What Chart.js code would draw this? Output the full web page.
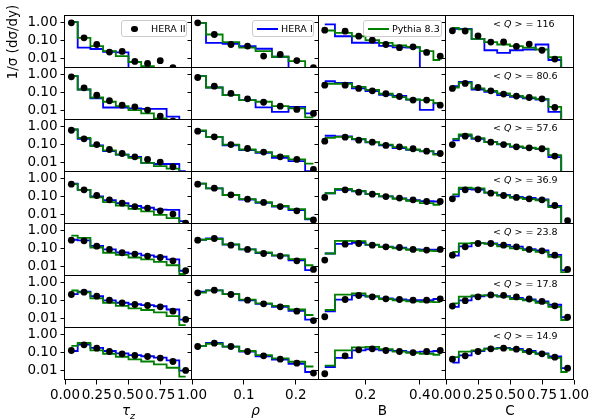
<!DOCTYPE html>
<html>
<head>
<meta charset="utf-8">
<script src="https://cdn.jsdelivr.net/npm/chart.js@4.4.1/dist/chart.umd.min.js"></script>
<style>
  html, body { margin: 0; padding: 0; background: #fff; overflow: hidden; }
  #wrap { position: relative; width: 590px; height: 419px; overflow: hidden; }
  #wrap canvas { position: absolute; left: 0; top: 0; }
  .txt { position: absolute; font-family: "DejaVu Sans"; color: #000; white-space: nowrap; }
  .leg { position: absolute; box-sizing: border-box; border: 1px solid #cccccc; border-radius: 3px;
         background: rgba(255,255,255,0.8); font: 9.5px "DejaVu Sans"; color: #000; }
  .leg span { position: absolute; }
  .q { font-size: 9.5px; }
  .xt { font-size: 13.5px; width: 100px; text-align: center; }
</style>
</head>
<body>
<div id="wrap"></div>
<script>
// ==========================
// データ
// ==========================
const tauX = [0.05, 0.15, 0.25, 0.35, 0.45, 0.55, 0.65, 0.75, 0.85, 0.95];
const rhoX = [0.011, 0.043, 0.075, 0.107, 0.138, 0.170, 0.202, 0.234];
const bX   = [0.05, 0.125, 0.175, 0.225, 0.275, 0.325, 0.375, 0.425, 0.475];
const cX   = [0.05, 0.15, 0.25, 0.35, 0.45, 0.55, 0.65, 0.75, 0.85, 0.95];

const meanQ = ["116", "80.6", "57.6", "36.9", "23.8", "17.8", "14.9"];

const yTicks   = [0.01, 0.1, 1];
const tauTicks = [0, 0.25, 0.5, 0.75, 1];
const rhoTicks = [0.1, 0.2];
const bTicks   = [0.2, 0.4];
const cTicks   = [0, 0.25, 0.5, 0.75, 1];

// τz
const tauHera2 = [
  [0.92, 0.139, 0.060, 0.023, 0.025, 0.0071, 0.0055, 0.0078, 0.0032, null],
  [0.715, 0.179, 0.071, 0.035, 0.020, 0.0163, 0.0108, 0.0051, 0.0028, null],
  [0.60, 0.203, 0.099, 0.053, 0.032, 0.021, 0.0151, 0.0108, 0.0060, null],
  [0.47, 0.23, 0.113, 0.065, 0.043, 0.028, 0.023, 0.0164, 0.0108, 0.0035],
  [0.284, 0.26, 0.133, 0.088, 0.058, 0.049, 0.038, 0.032, 0.021, 0.006],
  [0.212, 0.284, 0.172, 0.104, 0.074, 0.060, 0.053, 0.045, 0.026, 0.0091],
  [0.128, 0.26, 0.172, 0.113, 0.084, 0.068, 0.060, 0.049, 0.032, 0.0104]
];
const tauHera1 = [
  [1.0, 0.040, 0.034, 0.024, 0.022, 0.0005, 0.0005, 0.0005, 0.0005, 0.0005],
  [0.78, 0.145, 0.047, 0.015, 0.015, 0.0135, 0.0127, 0.0127, 0.0047, 0.0005],
  [0.66, 0.20, 0.088, 0.043, 0.028, 0.021, 0.0098, 0.0085, 0.0085, 0.0035],
  [0.5, 0.23, 0.10, 0.063, 0.043, 0.030, 0.024, 0.019, 0.0185, 0.0045],
  [0.3, 0.28, 0.14, 0.088, 0.06, 0.052, 0.042, 0.035, 0.025, 0.006],
  [0.22, 0.30, 0.17, 0.10, 0.075, 0.062, 0.055, 0.048, 0.032, 0.009],
  [0.12, 0.27, 0.18, 0.12, 0.088, 0.072, 0.062, 0.052, 0.037, 0.010]
];
const tauPythia = [
  [1.0, 0.139, 0.049, 0.026, 0.014, 0.0066, 0.0039, 0.0005, 0.0005, 0.0005],
  [0.78, 0.145, 0.053, 0.031, 0.0178, 0.0108, 0.0071, 0.0038, 0.0005, 0.0005],
  [0.66, 0.23, 0.081, 0.047, 0.028, 0.0185, 0.0098, 0.0065, 0.0047, 0.0005],
  [0.47, 0.23, 0.088, 0.049, 0.032, 0.021, 0.0151, 0.0098, 0.0065, 0.0005],
  [0.5, 0.38, 0.113, 0.058, 0.045, 0.032, 0.025, 0.0185, 0.012, 0.004],
  [0.35, 0.28, 0.13, 0.075, 0.05, 0.037, 0.030, 0.022, 0.014, 0.0045],
  [0.23, 0.33, 0.13, 0.085, 0.058, 0.042, 0.032, 0.022, 0.0145, 0.0048]
];

// ρ
const rhoHera2 = [
  [0.92, 0.212, 0.060, 0.049, 0.0139, 0.0171, 0.0079, 0.0032],
  [0.66, 0.22, 0.088, 0.045, 0.029, 0.0178, 0.0117, 0.0071],
  [0.53, 0.26, 0.099, 0.060, 0.038, 0.021, 0.0151, 0.0043],
  [0.47, 0.284, 0.123, 0.071, 0.047, 0.028, 0.0164, 0.0052],
  [0.284, 0.35, 0.151, 0.088, 0.053, 0.038, 0.021, 0.0071],
  [0.26, 0.365, 0.212, 0.104, 0.065, 0.045, 0.026, 0.0079],
  [0.212, 0.32, 0.212, 0.113, 0.065, 0.043, 0.026, 0.0074]
];
const rhoHera1 = [
  [0.92, 0.074, 0.066, 0.049, 0.035, 0.0128, 0.0005, 0.0005],
  [0.78, 0.187, 0.071, 0.038, 0.0151, 0.0087, 0.0163, 0.0071],
  [0.53, 0.26, 0.088, 0.049, 0.035, 0.0185, 0.0122, 0.0035],
  [0.5, 0.28, 0.12, 0.068, 0.045, 0.028, 0.018, 0.0055],
  [0.3, 0.35, 0.16, 0.088, 0.055, 0.040, 0.022, 0.0065],
  [0.3, 0.36, 0.22, 0.10, 0.065, 0.045, 0.027, 0.009],
  [0.22, 0.33, 0.21, 0.11, 0.062, 0.040, 0.024, 0.0085]
];
const rhoPythia = [
  [0.92, 0.212, 0.081, 0.040, 0.026, 0.0128, 0.0074, 0.0005],
  [0.78, 0.187, 0.071, 0.038, 0.031, 0.0178, 0.0134, 0.0043],
  [0.58, 0.26, 0.099, 0.053, 0.038, 0.023, 0.0151, 0.009],
  [0.5, 0.28, 0.12, 0.072, 0.048, 0.030, 0.020, 0.006],
  [0.3, 0.33, 0.165, 0.09, 0.06, 0.042, 0.026, 0.012],
  [0.27, 0.36, 0.22, 0.11, 0.07, 0.05, 0.032, 0.016],
  [0.22, 0.30, 0.21, 0.12, 0.072, 0.047, 0.031, 0.017]
];

// B
const bHera2 = [
  [0.365, 0.32, 0.172, 0.104, 0.060, 0.040, 0.045, 0.022, 0.0138],
  [0.25, 0.25, 0.165, 0.123, 0.085, 0.060, 0.038, 0.038, 0.020],
  [0.151, 0.25, 0.172, 0.133, 0.088, 0.074, 0.058, 0.043, 0.032],
  [0.088, 0.23, 0.172, 0.133, 0.099, 0.081, 0.065, 0.053, 0.053],
  [0.023, 0.172, 0.187, 0.151, 0.123, 0.113, 0.088, 0.081, 0.088],
  [0.0128, 0.113, 0.187, 0.158, 0.123, 0.113, 0.104, 0.104, 0.123],
  [0.0068, 0.065, 0.139, 0.158, 0.128, 0.113, 0.099, 0.113, 0.128]
];
const bHera1 = [
  [0.75, 0.17, 0.075, 0.075, 0.050, 0.042, 0.040, 0.0005, 0.0005],
  [0.41, 0.33, 0.165, 0.12, 0.075, 0.065, 0.04, 0.011, 0.025],
  [0.30, 0.28, 0.19, 0.13, 0.090, 0.063, 0.050, 0.042, 0.030],
  [0.15, 0.23, 0.19, 0.135, 0.10, 0.078, 0.062, 0.055, 0.053],
  [0.053, 0.18, 0.20, 0.155, 0.125, 0.11, 0.09, 0.085, 0.085],
  [0.025, 0.11, 0.19, 0.16, 0.13, 0.115, 0.105, 0.105, 0.12],
  [0.016, 0.05, 0.13, 0.15, 0.13, 0.12, 0.105, 0.11, 0.12]
];
const bPythia = [
  [0.35, 0.26, 0.17, 0.104, 0.074, 0.053, 0.045, 0.026, 0.0085],
  [0.30, 0.30, 0.20, 0.14, 0.085, 0.056, 0.041, 0.038, 0.027],
  [0.23, 0.26, 0.20, 0.133, 0.099, 0.071, 0.053, 0.043, 0.028],
  [0.15, 0.26, 0.20, 0.14, 0.10, 0.075, 0.058, 0.043, 0.035],
  [0.053, 0.26, 0.25, 0.16, 0.12, 0.10, 0.085, 0.075, 0.072],
  [0.03, 0.21, 0.24, 0.17, 0.12, 0.10, 0.09, 0.085, 0.08],
  [0.019, 0.13, 0.19, 0.20, 0.15, 0.11, 0.095, 0.085, 0.075]
];

// C
const cHera2 = [
  [0.34, 0.33, 0.18, 0.081, 0.082, 0.047, 0.063, 0.029, 0.0095, null],
  [0.165, 0.31, 0.187, 0.123, 0.081, 0.063, 0.053, 0.045, 0.0151, null],
  [0.099, 0.284, 0.203, 0.133, 0.099, 0.074, 0.065, 0.058, 0.023, null],
  [0.074, 0.23, 0.23, 0.151, 0.113, 0.088, 0.074, 0.065, 0.032, 0.0047],
  [0.043, 0.123, 0.187, 0.187, 0.151, 0.123, 0.088, 0.074, 0.043, 0.0071],
  [0.049, 0.097, 0.158, 0.20, 0.19, 0.155, 0.12, 0.088, 0.051, 0.012],
  [0.043, 0.065, 0.113, 0.158, 0.172, 0.151, 0.113, 0.084, 0.055, 0.0138]
];
const cHera1 = [
  [0.43, 0.43, 0.123, 0.029, 0.021, 0.029, 0.032, 0.060, 0.0085, 0.0005],
  [0.22, 0.38, 0.145, 0.108, 0.071, 0.058, 0.047, 0.041, 0.0087, 0.0005],
  [0.17, 0.30, 0.20, 0.14, 0.10, 0.074, 0.063, 0.055, 0.020, 0.0005],
  [0.10, 0.25, 0.24, 0.16, 0.12, 0.095, 0.082, 0.07, 0.030, 0.0005],
  [0.04, 0.13, 0.20, 0.19, 0.155, 0.125, 0.092, 0.078, 0.045, 0.0065],
  [0.045, 0.10, 0.17, 0.19, 0.17, 0.14, 0.115, 0.09, 0.058, 0.012],
  [0.028, 0.07, 0.12, 0.16, 0.175, 0.155, 0.12, 0.09, 0.06, 0.014]
];
const cPythia = [
  [0.49, 0.40, 0.123, 0.081, 0.060, 0.049, 0.040, 0.032, 0.012, 0.0005],
  [0.187, 0.34, 0.165, 0.123, 0.088, 0.065, 0.053, 0.043, 0.0163, 0.0005],
  [0.20, 0.35, 0.22, 0.133, 0.105, 0.078, 0.066, 0.058, 0.026, 0.0005],
  [0.13, 0.30, 0.28, 0.16, 0.11, 0.085, 0.072, 0.062, 0.026, 0.0005],
  [0.065, 0.19, 0.20, 0.18, 0.13, 0.10, 0.08, 0.065, 0.035, 0.005],
  [0.07, 0.16, 0.19, 0.19, 0.16, 0.12, 0.10, 0.075, 0.045, 0.0085],
  [0.055, 0.11, 0.13, 0.16, 0.165, 0.14, 0.105, 0.08, 0.05, 0.0085]
];

// ==========================
// パネル設定
// ==========================
const columns = [
  { x: tauX, h2: tauHera2, h1: tauHera1, py: tauPythia, min: 0, max: 1, ticks: tauTicks, dec: 2 },
  { x: rhoX, h2: rhoHera2, h1: rhoHera1, py: rhoPythia, min: 0, max: 0.2447, ticks: rhoTicks, dec: 1 },
  { x: bX, h2: bHera2, h1: bHera1, py: bPythia, min: 0.0288, max: 0.4963, ticks: bTicks, dec: 1 },
  { x: cX, h2: cHera2, h1: cHera1, py: cPythia, min: 0, max: 1, ticks: cTicks, dec: 2 }
];

const LEFT = [65, 192, 319, 446];
const RIGHT = [192, 319, 446, 574];
const TOP0 = 16, PH = 52, NROWS = 7;
const CW = 620, CH = 419;
const FONT = "DejaVu Sans";

Chart.defaults.font.family = FONT;
Chart.defaults.font.size = 13.5;
Chart.defaults.color = "#000";

const framePlugin = {
  id: "frame",
  afterDatasetsDraw(chart) {
    const { ctx, chartArea: a } = chart;
    ctx.save();
    ctx.strokeStyle = "#000";
    ctx.lineWidth = 1;
    ctx.strokeRect(a.left - 0.5, a.top - 0.5, a.right - a.left, a.bottom - a.top);
    ctx.restore();
  }
};

const toPts = (xs, ys) => xs.map((x, i) => ({ x, y: ys[i] }));

function makePanel(r, c) {
  const col = columns[c];
  const top = TOP0 + r * PH;
  const bottom = top + PH;
  const yW = c === 0 ? 60 : 0;
  const isBottom = r === NROWS - 1;
  const xH = isBottom ? 30 : 0;

  const cv = document.createElement("canvas");
  cv.width = CW; cv.height = CH;
  cv.style.width = CW + "px"; cv.style.height = CH + "px";
  document.getElementById("wrap").appendChild(cv);

  new Chart(cv, {
    type: "scatter",
    data: {
      datasets: [
        { label: "HERA II", data: toPts(col.x, col.h2[r]), showLine: false,
          pointRadius: 3.4, pointBackgroundColor: "#000", pointBorderWidth: 0, borderColor: "#000", clip: 0 },
        { label: "Pythia 8.3", data: toPts(col.x, col.py[r]), showLine: true, stepped: "middle",
          borderColor: "#008000", borderWidth: 1.8, pointRadius: 0, clip: 0 },
        { label: "HERA I", data: toPts(col.x, col.h1[r]), showLine: true, stepped: "middle",
          borderColor: "#0000ff", borderWidth: 1.8, pointRadius: 0, clip: 0 }
      ]
    },
    options: {
      responsive: false,
      animation: false,
      devicePixelRatio: 1,
      events: [],
      layout: { padding: { left: LEFT[c] - yW, right: CW - RIGHT[c], top: top, bottom: CH - bottom - xH } },
      plugins: { legend: { display: false }, tooltip: { enabled: false } },
      scales: {
        x: {
          type: "linear",
          display: isBottom,
          min: col.min, max: col.max,
          afterFit: s => { s.height = xH; },
          afterBuildTicks: s => { s.ticks = col.ticks.map(v => ({ value: v })); },
          ticks: { callback: v => v.toFixed(col.dec), padding: 3, maxRotation: 0, autoSkip: false, color: "#000" },
          grid: { display: true, drawOnChartArea: false, drawTicks: true, tickLength: 4.5, color: "#000", tickColor: "#000" },
          border: { display: false }
        },
        y: {
          type: "logarithmic",
          min: 0.0031, max: 2.18,
          afterFit: s => { s.width = yW; },
          afterBuildTicks: s => { s.ticks = yTicks.map(v => ({ value: v })); },
          ticks: { display: c === 0, callback: v => Number(v).toFixed(2), padding: 3, color: "#000" },
          grid: { display: true, drawOnChartArea: false, drawTicks: true, tickLength: 4.5, color: "#000", tickColor: "#000" },
          border: { display: false },
          title: { display: r === 0 && c === 0, text: "1/σ (dσ/dy)", padding: 0, font: { size: 13.5 } }
        }
      }
    },
    plugins: [framePlugin]
  });
}

for (let r = 0; r < NROWS; r++) {
  for (let c = 0; c < 4; c++) makePanel(r, c);
}

// ==========================
// テキスト（凡例・注記・軸ラベル）
// ==========================
const wrap = document.getElementById("wrap");
function addHTML(cls, style, html) {
  const d = document.createElement("div");
  d.className = cls;
  Object.assign(d.style, style);
  d.innerHTML = html;
  wrap.appendChild(d);
  return d;
}

// legends
addHTML("leg", { left: "121px", top: "20px", width: "66px", height: "17px" },
  '<span style="left:9px;top:4.5px;width:6.5px;height:6.5px;border-radius:50%;background:#000"></span>' +
  '<span style="left:29px;top:2px">HERA II</span>');
addHTML("leg", { left: "252px", top: "20px", width: "62px", height: "17px" },
  '<span style="left:4px;top:7px;width:21px;height:1.8px;background:#0000ff"></span>' +
  '<span style="left:28px;top:2px">HERA I</span>');
addHTML("leg", { left: "363px", top: "20px", width: "79px", height: "17px" },
  '<span style="left:4px;top:7px;width:21px;height:1.8px;background:#008000"></span>' +
  '<span style="left:28px;top:2px">Pythia 8.3</span>');

// <Q> annotations
meanQ.forEach((q, r) => {
  addHTML("txt q", { left: "493px", top: (TOP0 + r * PH + 1.5) + "px" },
    '&lt; <i>Q</i> &gt; = ' + q);
});

// x titles
const xTitles = ['<i>τ</i><sub style="font-size:9.5px"><i>z</i></sub>', "<i>ρ</i>", "B", "C"];
xTitles.forEach((t, c) => {
  const cx = (LEFT[c] + RIGHT[c]) / 2;
  addHTML("txt xt", { left: (cx - 50) + "px", top: "402px" }, t);
});
</script>
</body>
</html>
